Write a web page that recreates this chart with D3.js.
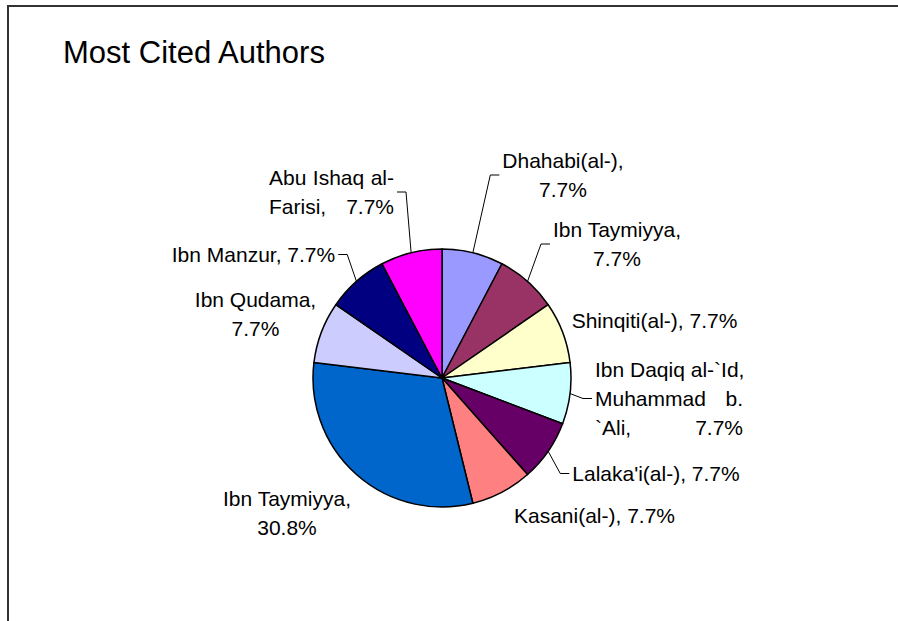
<!DOCTYPE html>
<html>
<head>
<meta charset="utf-8">
<script src="https://cdn.jsdelivr.net/npm/d3@7"></script>
<style>
  body { margin: 0; background: #fff; }
  svg { display: block; }
</style>
</head>
<body>
<div id="chart"></div>
<script>
const title = "Most Cited Authors"
const authors = ["Dhahabi(al-)", "Ibn Taymiyya", "Shinqiti(al-)", "Ibn Daqiq al-`Id, Muhammad b. `Ali", "Lalaka'i(al-)", "Kasani(al-)", "Ibn Taymiyya", "Ibn Qudama", "Ibn Manzur", "Abu Ishaq al-Farisi"]
const citations = [1, 1, 1, 1, 1, 1, 4, 1, 1, 1]
const sliceColors = ["#9999ff", "#993366", "#ffffcc", "#ccffff", "#660066", "#ff8080", "#0066cc", "#ccccff", "#000080", "#ff00ff"]

// where excel left each data label: box centre x, first baseline, wrap width, alignment
const labelLayout = [
  { x: 563, y: 168, wrap: 130, align: "center" },
  { x: 617, y: 237, wrap: 135, align: "center" },
  { x: 654.5, y: 328, wrap: 200, align: "center" },
  { x: 669, y: 377, wrap: 153, box: 148, align: "justify" },
  { x: 656, y: 481, wrap: 200, align: "center" },
  { x: 594.5, y: 523, wrap: 200, align: "center" },
  { x: 287, y: 506, wrap: 135, align: "center" },
  { x: 255.5, y: 307, wrap: 128, align: "center" },
  { x: 253.5, y: 262, wrap: 200, align: "center" },
  { x: 331.5, y: 185, wrap: 125, box: 125, align: "justify" }
]

const width = 898
const height = 621
const font = "'Liberation Sans', Arial, sans-serif"
const labelSize = 21
const lineHeight = 29
const cx = 442
const cy = 378
const radius = 129

const svg = d3.select("#chart")
  .append("svg")
  .attr("width", width)
  .attr("height", height)

// chart area frame (only top and left edges show)
svg.append("path")
  .attr("d", d3.line()([[8, height], [8, 6], [width, 6]]))
  .attr("fill", "none")
  .attr("stroke", "#333")
  .attr("stroke-width", 2)

svg.append("text")
  .attr("x", 63)
  .attr("y", 63)
  .attr("font-family", font)
  .attr("font-size", 31)
  .attr("fill", "#000")
  .text(title)

const total = d3.sum(citations)
const fmt = d3.format(".1%")

const pie = d3.pie().sort(null).value(d => d)
const arcs = pie(citations)
const arc = d3.arc().innerRadius(0).outerRadius(radius)
const edge = d3.arc().innerRadius(radius).outerRadius(radius)

const g = svg.append("g").attr("transform", `translate(${cx},${cy})`)

g.selectAll("path.slice")
  .data(arcs)
  .enter()
    .append("path")
    .attr("class", "slice")
    .attr("d", arc)
    .attr("fill", (d, i) => sliceColors[i])
    .attr("stroke", "#000")
    .attr("stroke-width", 1.5)
    .attr("stroke-linejoin", "round")

// text wrapping like the excel label box
const ctx = document.createElement("canvas").getContext("2d")
ctx.font = `${labelSize}px ${font}`
const measure = s => ctx.measureText(s).width

function tokenize(str) {
  const out = []
  str.split(" ").forEach(word => {
    const parts = word.split(/(?<=-)(?=[A-Za-z])/)
    parts.forEach((p, i) => out.push({ text: p, space: i === parts.length - 1 }))
  })
  return out
}

function joinTokens(toks) {
  return toks.map((t, i) => t.text + (t.space && i < toks.length - 1 ? " " : "")).join("")
}

function wrap(str, w) {
  const lines = []
  let cur = []
  tokenize(str).forEach(tok => {
    const trial = cur.concat(tok)
    if (cur.length && measure(joinTokens(trial)) > w) {
      lines.push(joinTokens(cur))
      cur = [tok]
    } else {
      cur = trial
    }
  })
  if (cur.length) lines.push(joinTokens(cur))
  return lines
}

const labels = svg.append("g")
  .attr("font-family", font)
  .attr("font-size", labelSize)
  .attr("fill", "#000")

arcs.forEach((d, i) => {
  const lay = labelLayout[i]
  const lines = wrap(`${authors[i]}, ${fmt(d.value / total)}`, lay.wrap)
  const lg = labels.append("g")

  lines.forEach((line, k) => {
    const y = lay.y + k * lineHeight
    const words = line.split(" ")
    if (lay.align === "justify" && words.length > 1) {
      const left = lay.x - lay.box / 2
      const used = d3.sum(words, measure)
      const gap = Math.max((lay.box - used) / (words.length - 1), measure(" "))
      let x = left
      words.forEach(wd => {
        lg.append("text").attr("x", x).attr("y", y).text(wd)
        x += measure(wd) + gap
      })
    } else {
      lg.append("text")
        .attr("x", lay.x)
        .attr("y", y)
        .attr("text-anchor", "middle")
        .text(line)
    }
  })

  // leader line when the label sits away from its slice
  const bb = lg.node().getBBox()
  const box = { x0: bb.x - 3, x1: bb.x + bb.width + 3, y0: bb.y, y1: bb.y + bb.height }
  const [px, py] = edge.centroid(d).map((v, j) => v + (j ? cy : cx))
  const dx = Math.max(box.x0 - px, 0, px - box.x1)
  const dy = Math.max(box.y0 - py, 0, py - box.y1)
  if (Math.hypot(dx, dy) > 17) {
    const my = (box.y0 + box.y1) / 2
    const onLeft = px < box.x0
    const sx = onLeft ? box.x0 : box.x1
    const stub = onLeft ? sx - 9 : sx + 9
    svg.append("path")
      .attr("d", d3.line()([[sx, my], [stub, my], [px, py]]))
      .attr("fill", "none")
      .attr("stroke", "#000")
      .attr("stroke-width", 1)
  }
})
</script>
</body>
</html>
